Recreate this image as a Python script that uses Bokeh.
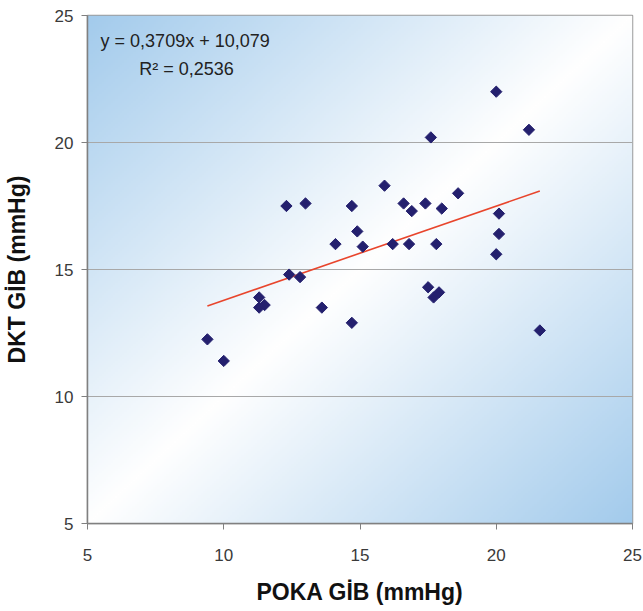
import numpy as np
from bokeh.plotting import figure
from bokeh.models import Label, Range1d, FixedTicker
from bokeh.embed import file_html
from bokeh.resources import INLINE

# ---- data ----
poka_gib = [12.3, 13.0, 14.7, 14.9, 14.1, 15.1, 12.4, 12.8, 11.3, 11.3, 11.5, 13.6, 14.7, 9.4, 10.0,
            20.0, 21.2, 17.6, 15.9, 18.6, 16.6, 17.4, 16.9, 18.0, 20.1, 20.1, 20.0, 16.2, 16.8, 17.8,
            17.5, 17.7, 17.9, 21.6]
dkt_gib = [17.5, 17.6, 17.5, 16.5, 16.0, 15.9, 14.8, 14.7, 13.9, 13.5, 13.6, 13.5, 12.9, 12.25, 11.4,
           22.0, 20.5, 20.2, 18.3, 18.0, 17.6, 17.6, 17.3, 17.4, 17.2, 16.4, 15.6, 16.0, 16.0, 16.0,
           14.3, 13.9, 14.1, 12.6]
trend_slope = 0.3709
trend_intercept = 10.079
equation_text = "y = 0,3709x + 10,079"
r2_text = "R² = 0,2536"
axis_ticks = [5, 10, 15, 20, 25]
x_title = "POKA GİB (mmHg)"
y_title = "DKT GİB (mmHg)"

X0, X1, Y0, Y1 = 5, 25, 5, 25

p = figure(width=643, height=611, output_backend="svg", toolbar_location=None,
           x_range=Range1d(X0, X1), y_range=Range1d(Y0, Y1),
           min_border_left=86, min_border_right=11, min_border_top=15, min_border_bottom=88)
p.background_fill_color = "white"
p.border_fill_color = "white"
p.outline_line_color = "#9a9a9a"
p.outline_line_width = 1.5

# ---- diagonal gradient background (style only) ----
N = 240
u = np.linspace(0, 1, N)[None, :]
v = np.linspace(0, 1, N)[:, None]
t = np.clip(np.abs(u - v), 0, 1)
blue = np.array([163, 203, 236])
white = np.array([255, 255, 255])
img = np.empty((N, N), dtype=np.uint32)
view = img.view(dtype=np.uint8).reshape((N, N, 4))
for k in range(3):
    view[:, :, k] = (white[k] + (blue[k] - white[k]) * t).astype(np.uint8)
view[:, :, 3] = 255
bg = p.image_rgba(image=[img], x=X0, y=Y0, dw=X1 - X0, dh=Y1 - Y0)
bg.level = "image"

# ---- grid ----
p.xgrid.visible = False
p.ygrid.ticker = FixedTicker(ticks=axis_ticks)
p.ygrid.grid_line_color = "#a8a8a8"
p.ygrid.grid_line_width = 1.2

# ---- axes ----
for ax in (p.xaxis[0], p.yaxis[0]):
    ax.ticker = FixedTicker(ticks=axis_ticks)
    ax.minor_tick_line_color = None
    ax.major_tick_in = 0
    ax.major_tick_out = 6
    ax.major_tick_line_color = "#808080"
    ax.axis_line_color = "#808080"
    ax.axis_line_width = 1.5
    ax.major_label_text_font = "Liberation Sans"
    ax.major_label_text_font_size = "17px"
    ax.major_label_text_color = "#3a3a3a"
    ax.axis_label_text_font = "Liberation Sans"
    ax.axis_label_text_font_style = "bold"
    ax.axis_label_text_font_size = "23px"
    ax.axis_label_text_color = "#111111"

p.xaxis.axis_label = x_title
p.yaxis.axis_label = y_title
p.xaxis.major_label_standoff = 19
p.xaxis.axis_label_standoff = 15
p.yaxis.major_label_standoff = 8
p.yaxis.axis_label_standoff = 22

# ---- trend line ----
tx = [min(poka_gib), max(poka_gib)]
ty = [trend_slope * x + trend_intercept for x in tx]
p.line(tx, ty, line_color="#e8452c", line_width=1.6)

# ---- points ----
p.scatter(poka_gib, dkt_gib, marker="square", angle=np.pi / 4, size=8,
          fill_color="#24206e", line_color="#24206e")

# ---- equation labels ----
p.add_layout(Label(x=5.48, y=23.98, text=equation_text, text_font="Liberation Sans",
                   text_font_size="18px", text_color="#222222", text_baseline="middle",
                   text_align="left"))
p.add_layout(Label(x=6.9, y=22.9, text=r2_text, text_font="Liberation Sans",
                   text_font_size="18px", text_color="#222222", text_baseline="middle",
                   text_align="left"))

open("out.html", "w").write(file_html(p, INLINE))
